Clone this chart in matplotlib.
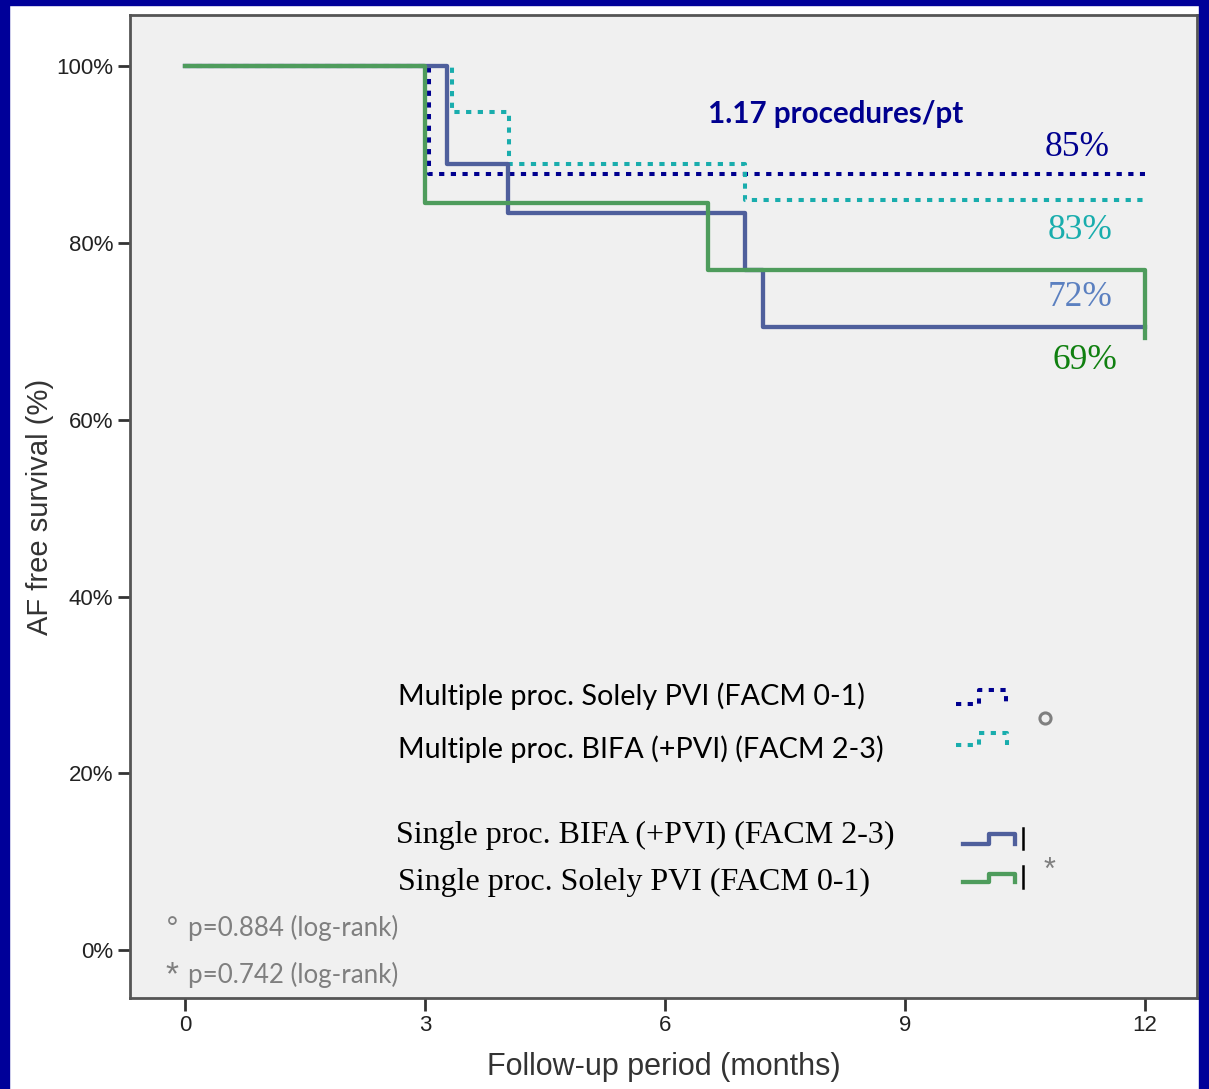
import matplotlib
matplotlib.use("Agg")
import matplotlib.pyplot as plt
from matplotlib.patches import Rectangle

# ---------------- data ----------------
single_bifa_t = [0, 3.27, 4.03, 7.0, 7.23, 12.0]
single_bifa_s = [100, 88.9, 83.4, 76.9, 70.5, 70.5]

single_pvi_t = [0, 3.0, 6.54, 12.0]
single_pvi_s = [100, 84.5, 76.9, 69.3]

multi_pvi_t = [0, 3.05, 12.0]
multi_pvi_s = [100, 87.8, 87.8]

multi_bifa_t = [0, 3.34, 4.05, 7.0, 12.0]
multi_bifa_s = [100, 94.8, 88.9, 84.9, 84.9]

x_ticks = [0, 3, 6, 9, 12]
y_ticks = [0, 20, 40, 60, 80, 100]
y_ticklabels = ["0%", "20%", "40%", "60%", "80%", "100%"]

end_labels = ["85%", "83%", "72%", "69%"]
legend_labels = ["Multiple proc. Solely PVI (FACM 0-1)",
                 "Multiple proc. BIFA (+PVI) (FACM 2-3)",
                 "Single proc. BIFA (+PVI) (FACM 2-3)",
                 "Single proc. Solely PVI (FACM 0-1)"]
pvals = ["p=0.884 (log-rank)", "p=0.742 (log-rank)"]

# ---------------- style ----------------
NAVY = "#00008f"
TEAL = "#19adad"
BLUEGRAY = "#4f5f9c"
GREEN = "#4e9c5c"
GRAY = "#7f7f7f"
SANS = ["Liberation Sans", "DejaVu Sans"]
CAL = ["Lato", "DejaVu Sans"]
SERIF = ["Liberation Serif", "DejaVu Serif"]

W, H = 1209, 1089
fig = plt.figure(figsize=(W / 100, H / 100), dpi=100)
fig.patch.set_facecolor("white")

# blue frame
for (x0, y0, w, h) in [(0, 0, 9, H), (0, H - 5, W, 5), (W - 10, 0, 10, H)]:
    fig.patches.append(Rectangle((x0 / W, y0 / H), w / W, h / H,
                                 transform=fig.transFigure, color="#000099", zorder=0))

ax = fig.add_axes([130 / W, (H - 998) / H, (1197 - 130) / W, (998 - 15) / H])
ax.set_facecolor("#f0f0f0")
ax.set_xlim(-0.69, 12.65)
ax.set_ylim(-5.4, 105.8)

dot = (0, (1.3, 1.6))
DLW = 2.9
SLW = 3.1
ax.step(multi_pvi_t, multi_pvi_s, where="post", color=NAVY, lw=DLW, ls=dot, zorder=2)
ax.step(multi_bifa_t, multi_bifa_s, where="post", color=TEAL, lw=DLW, ls=dot, zorder=2)
ax.step(single_bifa_t, single_bifa_s, where="post", color=BLUEGRAY, lw=SLW, zorder=3)
ax.step(single_pvi_t, single_pvi_s, where="post", color=GREEN, lw=SLW, zorder=3)

ax.set_xticks(x_ticks)
ax.set_xticklabels([str(t) for t in x_ticks], fontsize=16, family=SANS, color="#222222")
ax.set_yticks(y_ticks)
ax.set_yticklabels(y_ticklabels, fontsize=16, family=SANS, color="#222222")
ax.tick_params(length=9, width=2, color="#333333", pad=3)
for s in ax.spines.values():
    s.set_color("#555555")
    s.set_linewidth(2)

ax.set_xlabel("Follow-up period (months)", fontsize=22, family=SANS, color="#333333", labelpad=12)
ax.set_ylabel("AF free survival (%)", fontsize=21, family=SANS, color="#333333", labelpad=2)

# annotations
ax.text(6.54, 94.6, "1.17 procedures/pt", fontsize=21.3, fontweight="bold", family=CAL,
        color=NAVY, ha="left", va="center")
end_colors = [NAVY, TEAL, "#5b80c0", "#108010"]
end_pos = [(11.56, 90.8), (11.59, 81.4), (11.59, 73.8), (11.66, 66.7)]
for lab, c, (x, y) in zip(end_labels, end_colors, end_pos):
    ax.text(x, y, lab, fontsize=25.5, family=SERIF, color=c, ha="right", va="center")

# legend texts
ax.text(2.66, 28.7, legend_labels[0], fontsize=20.7, family=CAL, color="black", ha="left", va="center")
ax.text(2.66, 22.8, legend_labels[1], fontsize=20.7, family=CAL, color="black", ha="left", va="center")
ax.text(2.63, 13.0, legend_labels[2], fontsize=23, family=SERIF, color="black", ha="left", va="center")
ax.text(2.66, 7.7, legend_labels[3], fontsize=23, family=SERIF, color="black", ha="left", va="center")

# legend icons (decorative step glyphs)
def icon(x0, x1, x2, ylow, yhigh, **kw):
    ax.plot([x0, x1, x1, x2, x2], [ylow, ylow, yhigh, yhigh, ylow], **kw)

icon(9.64, 9.93, 10.26, 27.9, 29.4, color=NAVY, lw=DLW, ls=dot, zorder=4)
icon(9.64, 9.93, 10.28, 23.2, 24.6, color=TEAL, lw=DLW, ls=dot, zorder=4)
icon(9.73, 10.05, 10.38, 12.0, 13.1, color=BLUEGRAY, lw=SLW, zorder=4)
icon(9.73, 10.05, 10.38, 7.7, 8.6, color=GREEN, lw=SLW, zorder=4)
for yc in (12.6, 8.3):
    ax.plot([10.48, 10.48], [yc - 1.2, yc + 1.2], color="black", lw=1.8, zorder=4)
ax.plot([10.75], [26.3], marker="o", ms=8, mfc="none", mec=GRAY, mew=2.2, zorder=4)
ax.text(10.81, 9.0, "*", fontsize=22, family=SANS, color=GRAY, ha="center", va="center")

# p-values
ax.text(-0.16, 2.5, "°", fontsize=19, family=CAL, color=GRAY, ha="center", va="center")
ax.text(0.04, 2.5, pvals[0], fontsize=18.6, family=CAL, color=GRAY, ha="left", va="center")
ax.text(-0.17, -2.9, "*", fontsize=24, family=SANS, color=GRAY, ha="center", va="center")
ax.text(0.04, -2.8, pvals[1], fontsize=18.6, family=CAL, color=GRAY, ha="left", va="center")

fig.savefig("out.png", dpi=100)
